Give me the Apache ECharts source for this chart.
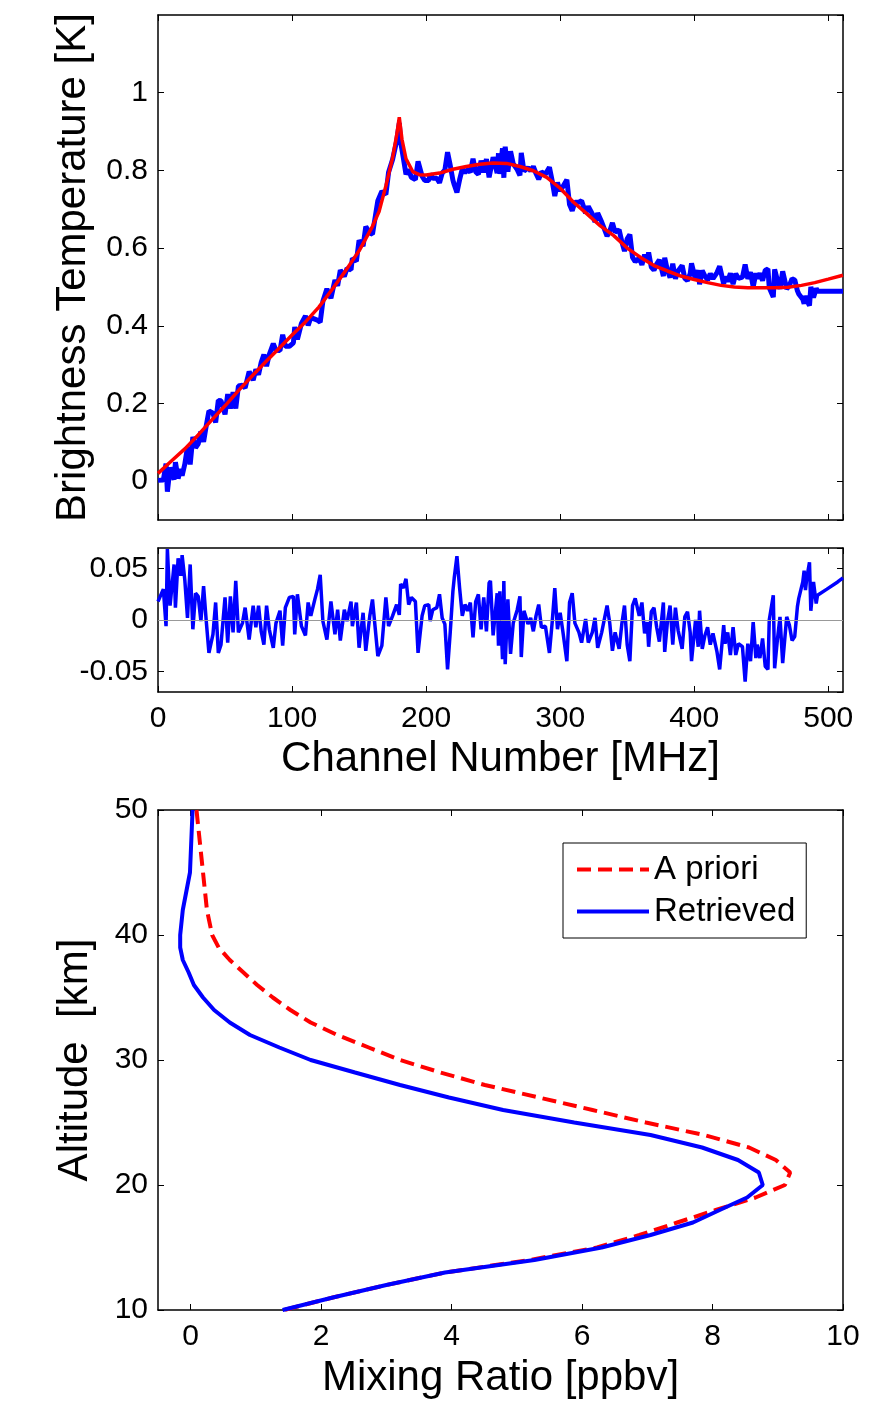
<!DOCTYPE html>
<html lang="en">
<head>
<meta charset="UTF-8">
<title>Brightness temperature fit and retrieved profile</title>
<style>
    * { margin: 0; padding: 0; }
    body { background: #fff; }
    #main { width: 891px; height: 1411px; }
</style>
</head>
<body>
<div id="main"></div>
<script src="https://cdn.jsdelivr.net/npm/echarts@6/dist/echarts.min.js"></script>
<script>
    // channels where the measured spectrum and the residual were read
    const chan = [0,4,6,7,9,12,13,15,17,18,20,22,24,26,28,30,32,34,36,38,41,43,45,47,50,52,54,56,58,60,63,65,68,71,73,75,77,79,81,83,86,88,91,93,95,98,101,102,104,107,110,112,114,117,119,121,123,126,129,132,134,136,139,141,144,145,148,150,153,155,158,160,164,167,170,172,
        175,178,180,181,183,185,187,189,192,194,197,199,202,203,205,208,210,212,214,216,218,220,221,223,225,227,229,231,233,235,237,239,241,243,245,247,248,250,253,254,255,257,258,259,261,263,265,268,270,271,273,276,278,280,282,284,286,289,292,294,296,298,300,302,305,307,309,311,314,316,319,321,324,326,328,331,332,335,337,339,341,344,346,348,
        350,352,354,356,357,359,361,363,365,366,368,370,372,374,377,378,380,382,384,386,388,391,393,395,397,398,401,403,404,406,408,410,412,414,417,419,422,423,425,427,429,431,433,436,438,440,442,444,446,447,449,451,453,455,456,459,460,462,464,466,469,471,473,475,477,478,481,482,483,484,486,487,489,491,492,499,507,511];

    // measured brightness temperature [K] (blue, top panel)
    const measured = [0.002,0.003,0.045,-0.027,0.035,0.004,0.049,0.007,0.031,0.014,
        0.044,0.088,0.043,0.114,0.086,0.096,0.128,0.101,0.143,0.181,
        0.175,0.151,0.208,0.207,0.172,0.224,0.187,0.229,0.187,0.245,
        0.247,0.240,0.282,0.260,0.288,0.274,0.306,0.326,0.296,0.326,
        0.354,0.337,0.336,0.377,0.347,0.347,0.356,0.397,0.365,0.406,
        0.425,0.401,0.421,0.417,0.414,0.409,0.463,0.495,0.471,0.518,
        0.503,0.543,0.527,0.548,0.544,0.574,0.566,0.620,0.605,0.655,
        0.639,0.636,0.722,0.746,0.738,0.795,
        0.828,0.875,0.922,0.874,0.832,0.790,0.802,0.782,0.776,0.823,
        0.785,0.774,0.774,0.791,0.780,0.780,0.768,0.793,0.801,0.847,
        0.813,0.775,0.763,0.743,0.776,0.804,0.794,0.802,0.795,0.830,
        0.796,0.790,0.825,0.795,0.829,0.782,0.780,0.834,0.793,0.844,
        0.791,0.857,0.781,0.861,0.797,0.849,0.817,0.802,0.787,0.845,
        0.798,0.807,0.799,0.810,0.792,0.777,0.796,0.790,0.808,0.774,
        0.734,0.769,0.747,0.758,0.776,0.712,0.696,0.718,0.718,0.722,
        0.690,0.707,0.688,0.667,0.690,0.667,0.664,0.631,0.643,0.665,
        0.641,0.647,0.617,0.592,
        0.624,0.635,0.576,0.565,0.561,0.574,0.557,0.583,0.568,0.589,
        0.551,0.543,0.559,0.570,0.528,0.575,0.543,0.524,0.560,0.521,
        0.541,0.555,0.522,0.516,0.534,0.561,0.518,0.543,0.507,0.542,
        0.528,0.518,0.534,0.521,0.537,0.553,0.508,0.526,0.514,0.535,
        0.507,0.534,0.522,0.525,0.558,0.521,0.538,0.500,0.535,0.522,
        0.535,0.516,0.543,0.546,0.498,0.474,0.545,0.518,0.495,0.540,
        0.495,0.504,0.521,0.518,0.490,0.482,0.468,0.457,0.477,0.466,
        0.452,0.500,0.473,0.496,0.489,0.489,0.489,0.489];

    // fit residual (middle panel)
    const resid = [0.018,0.030,-0.006,0.069,0.014,0.054,0.012,0.060,0.043,0.063,
        0.039,0.002,0.054,-0.009,0.026,0.023,-0.001,0.033,-0.001,-0.032,
        -0.014,0.017,-0.032,-0.024,0.022,-0.022,0.023,-0.012,0.038,-0.012,
        -0.003,0.012,-0.019,0.014,-0.007,0.014,-0.011,-0.024,0.014,-0.009,
        -0.027,-0.003,0.009,-0.025,0.012,0.022,0.023,-0.014,0.025,-0.006,
        -0.015,0.017,0.004,0.020,0.030,0.044,-0.001,-0.019,0.018,-0.014,
        0.010,-0.020,0.010,-0.001,0.018,-0.006,0.017,-0.027,0.007,-0.030,
        0.004,0.020,-0.035,-0.025,0.022,-0.006,
        0.004,0.015,0.005,0.035,0.031,0.040,0.015,0.022,0.018,-0.032,
        0.004,0.014,0.015,-0.001,0.010,0.012,0.025,0.002,-0.004,-0.048,
        -0.012,0.028,0.041,0.062,0.031,0.004,0.015,0.009,0.017,-0.017,
        0.018,0.025,-0.009,0.022,-0.011,0.036,0.038,-0.015,0.026,-0.025,
        0.028,-0.038,0.038,-0.043,0.020,-0.033,-0.003,0.010,0.023,-0.036,
        0.009,-0.004,0.002,-0.011,0.004,0.015,-0.007,-0.006,-0.032,-0.003,
        0.031,-0.009,0.007,-0.011,-0.040,0.017,0.026,-0.003,-0.012,-0.022,
        0.001,-0.022,-0.012,0.002,-0.027,-0.012,-0.012,0.014,-0.003,-0.030,
        -0.012,-0.028,-0.004,0.014,
        -0.024,-0.040,0.014,0.021,0.022,0.004,0.017,-0.013,-0.002,-0.026,
        0.008,0.012,-0.007,-0.021,0.017,-0.031,-0.002,0.014,-0.024,0.012,
        -0.010,-0.028,0.003,0.008,-0.012,-0.040,0.000,-0.026,0.009,-0.028,
        -0.015,-0.007,-0.024,-0.013,-0.031,-0.048,-0.005,-0.023,-0.012,-0.034,
        -0.007,-0.034,-0.023,-0.026,-0.060,-0.023,-0.040,-0.002,-0.037,-0.024,
        -0.037,-0.018,-0.045,-0.048,0.000,0.024,-0.047,-0.020,0.003,-0.042,
        0.003,-0.005,-0.020,-0.016,0.013,0.021,0.037,0.048,0.029,0.041,
        0.056,0.009,0.037,0.016,0.024,0.030,0.037,0.041];

    // fitted spectrum (red, top panel)
    const fitChan = [0,10,20,30,40,50,60,70,80,90,100,110,120,130,140,150,160,165,170,175,
        178,180,182,185,190,195,200,210,220,230,240,250,260,270,280,290,300,310,320,330,
        340,350,360,370,380,390,400,410,420,430,440,450,460,470,480,490,500,511];
    const fitVal = [0.020,0.052,0.083,0.119,0.157,0.194,0.233,0.270,0.306,0.341,
        0.376,0.410,0.448,0.494,0.542,0.593,0.656,0.695,0.760,0.832,
        0.890,0.937,0.880,0.830,0.797,0.789,0.788,0.793,0.803,0.810,
        0.816,0.819,0.818,0.810,0.799,0.782,0.754,0.718,0.688,0.657,
        0.632,0.600,0.576,0.555,0.541,0.528,0.519,0.511,0.504,0.500,
        0.498,0.498,0.498,0.499,0.504,0.511,0.520,0.530];

    // profiles (bottom panel)
    const altitude = [50,45,42,40,39,38,37,36,35,34,33,32,31,30,29,28,27,26,25,24,23,22,21,20,19,18,17,16,15,14,13,12,11,10];
    const apriori = [0.09,0.19,0.25,0.33,0.43,0.60,0.81,1.02,1.26,1.53,1.84,2.25,2.73,3.21,3.83,4.51,5.34,6.16,6.98,7.87,8.56,8.97,9.19,9.11,8.66,8.05,7.46,6.88,6.23,5.20,3.90,3.00,2.18,1.43];
    const retrieved = [0.03,-0.01,-0.12,-0.16,-0.16,-0.12,-0.03,0.05,0.19,0.36,0.60,0.91,1.36,1.84,2.52,3.21,3.96,4.79,5.88,7.05,7.84,8.39,8.71,8.77,8.53,8.11,7.70,7.05,6.30,5.27,3.90,3.00,2.18,1.41];

    const font = '"Liberation Sans", Arial, Helvetica, sans-serif';
    const tickFont = { color: '#000', fontSize: 30, fontFamily: font };
    const nameFont = { color: '#000', fontSize: 42, fontFamily: font };

    function axisBase(grid, min, max, pos) {
        return {
            type: 'value', gridIndex: grid, min: min, max: max, position: pos,
            axisLine: { show: true, onZero: false, lineStyle: { color: '#000', width: 1.5 } },
            axisTick: { show: true, inside: true, length: 6, lineStyle: { color: '#000', width: 1 } },
            axisLabel: { show: false },
            splitLine: { show: false }
        };
    }

    const xAxes = [
        Object.assign(axisBase(0, 0, 511, 'bottom'), { interval: 100 }),
        Object.assign(axisBase(0, 0, 511, 'top'), { interval: 100 }),
        Object.assign(axisBase(1, 0, 511, 'bottom'), {
            interval: 100,
            axisLabel: Object.assign({ show: true, margin: 12, showMaxLabel: false }, tickFont),
            name: 'Channel Number [MHz]', nameLocation: 'middle', nameGap: 46, nameTextStyle: nameFont
        }),
        Object.assign(axisBase(1, 0, 511, 'top'), { interval: 100 }),
        Object.assign(axisBase(2, -0.5, 10, 'bottom'), {
            splitNumber: 5,
            axisLabel: Object.assign({ show: true, margin: 12, showMinLabel: false }, tickFont),
            name: 'Mixing Ratio [ppbv]', nameLocation: 'middle', nameGap: 47, nameTextStyle: nameFont
        }),
        Object.assign(axisBase(2, -0.5, 10, 'top'), { splitNumber: 5 })
    ];

    const yAxes = [
        Object.assign(axisBase(0, -0.1, 1.2, 'left'), {
            splitNumber: 6,
            axisLabel: Object.assign({ show: true, margin: 10, showMinLabel: false, showMaxLabel: false }, tickFont),
            name: 'Brightness Temperature [K]', nameLocation: 'middle', nameGap: 64, nameTextStyle: nameFont
        }),
        Object.assign(axisBase(0, -0.1, 1.2, 'right'), { splitNumber: 6 }),
        Object.assign(axisBase(1, -0.07, 0.07, 'left'), {
            splitNumber: 3,
            axisLabel: Object.assign({ show: true, margin: 10, showMinLabel: false, showMaxLabel: false }, tickFont)
        }),
        Object.assign(axisBase(1, -0.07, 0.07, 'right'), { splitNumber: 3 }),
        Object.assign(axisBase(2, 10, 50, 'left'), {
            interval: 10,
            axisLabel: Object.assign({ show: true, margin: 10 }, tickFont),
            name: 'Altitude  [km]', nameLocation: 'middle', nameGap: 62, nameTextStyle: nameFont
        }),
        Object.assign(axisBase(2, 10, 50, 'right'), { interval: 10 })
    ];

    const option = {
        animation: false,
        backgroundColor: '#fff',
        grid: [
            { left: 158, right: 48, top: 15, height: 505 },
            { left: 158, right: 48, top: 548, height: 144 },
            { left: 158, right: 48, top: 810, height: 500 }
        ],
        legend: {
            data: ['A priori', 'Retrieved'],
            orient: 'vertical',
            left: 563, top: 843,
            itemWidth: 72, itemHeight: 14, itemGap: 9,
            padding: [10, 11, 10, 12],
            borderColor: '#000', borderWidth: 1, borderRadius: 0,
            backgroundColor: '#fff',
            itemStyle: { opacity: 0 },
            lineStyle: { width: 4 },
            textStyle: { color: '#000', fontSize: 33, fontFamily: font }
        },
        xAxis: xAxes,
        yAxis: yAxes,
        series: [
            {
                name: 'Measured', type: 'line', xAxisIndex: 0, yAxisIndex: 0,
                data: chan.map((c, i) => [c, measured[i]]),
                showSymbol: false, symbol: 'none',
                lineStyle: { color: '#0000ff', width: 5 }
            },
            {
                name: 'Fit', type: 'line', xAxisIndex: 0, yAxisIndex: 0,
                data: fitChan.map((c, i) => [c, fitVal[i]]),
                showSymbol: false, symbol: 'none',
                lineStyle: { color: '#ff0000', width: 3.5 }
            },
            {
                name: 'Residual', type: 'line', xAxisIndex: 2, yAxisIndex: 2,
                data: chan.map((c, i) => [c, resid[i]]),
                showSymbol: false, symbol: 'none',
                lineStyle: { color: '#0000ff', width: 3.5 },
                markLine: {
                    silent: true, symbol: 'none', label: { show: false },
                    lineStyle: { color: '#999', width: 1, type: 'solid' },
                    data: [{ yAxis: 0 }]
                },
                z: 3
            },
            {
                name: 'A priori', type: 'line', xAxisIndex: 4, yAxisIndex: 4,
                data: altitude.map((a, i) => [apriori[i], a]),
                showSymbol: false, symbol: 'none',
                itemStyle: { color: '#ff0000' },
                lineStyle: { color: '#ff0000', width: 4, type: [14, 7] }
            },
            {
                name: 'Retrieved', type: 'line', xAxisIndex: 4, yAxisIndex: 4,
                data: altitude.map((a, i) => [retrieved[i], a]),
                showSymbol: false, symbol: 'none',
                itemStyle: { color: '#0000ff' },
                lineStyle: { color: '#0000ff', width: 4 }
            }
        ]
    };

    initChart(option);

    function initChart(option) {
        let myChart = echarts.init(document.getElementById('main'));
        myChart.clear();
        myChart.setOption(option);
        window.addEventListener('resize', () => {
            myChart.resize();
        });
    }
</script>
</body>
</html>
